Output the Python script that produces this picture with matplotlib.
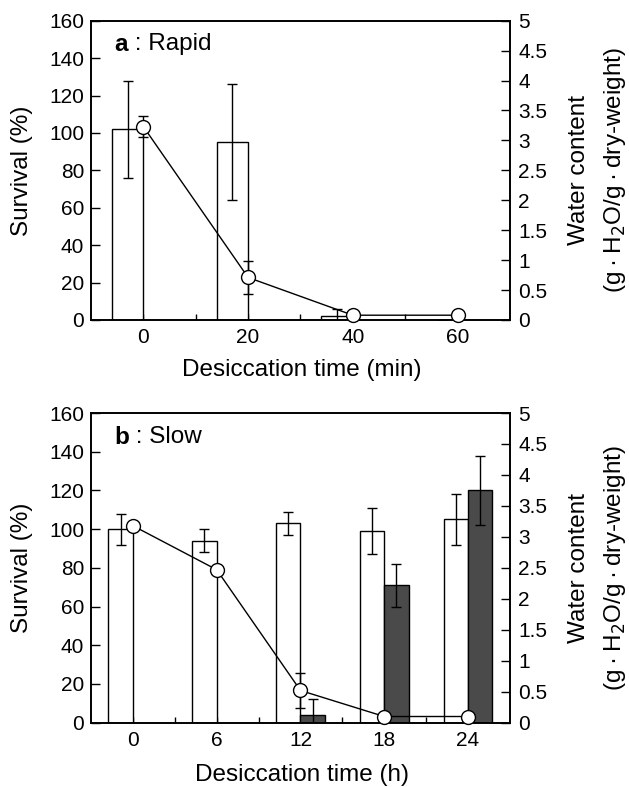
import matplotlib
matplotlib.use('Agg')
import matplotlib.pyplot as plt
from matplotlib.ticker import FixedLocator, FuncFormatter

plt.rcParams['font.family'] = ['Liberation Sans', 'DejaVu Sans']

# ---------------- data ----------------
rapid_time = [0, 20, 40, 60]
rapid_survival = [102, 95, 2, 0]
rapid_survival_err = [26, 31, 4, 0]
rapid_water = [3.23, 0.71, 0.08, 0.08]
rapid_water_err = [0.18, 0.27, 0, 0]

slow_time = [0, 6, 12, 18, 24]
slow_survival_white = [100, 94, 103, 99, 105]
slow_survival_white_err = [8, 6, 6, 12, 13]
slow_survival_dark = [0, 0, 4, 71, 120]
slow_survival_dark_err = [0, 0, 8, 11, 18]
slow_water = [3.18, 2.47, 0.52, 0.10, 0.10]
slow_water_err = [0, 0, 0.28, 0, 0]

left_ticks = [0, 20, 40, 60, 80, 100, 120, 140, 160]
right_ticks = [0, 0.5, 1, 1.5, 2, 2.5, 3, 3.5, 4, 4.5, 5]

TFS = 15     # tick labels
LFS = 17.5   # axis labels
DARK = '#4a4a4a'

fig = plt.figure(figsize=(6.29, 7.87), dpi=100)
ax_a = fig.add_axes([0.1447, 0.5934, 0.666, 0.3803])
ax_b = fig.add_axes([0.1447, 0.0817, 0.666, 0.3935])


def style(ax, ax2, xlim, xticks, xminor, xlabel, title_bold, title_rest):
    ax.set_xlim(*xlim)
    ax.set_ylim(0, 160)
    ax2.set_ylim(0, 5)
    ax.xaxis.set_major_locator(FixedLocator(xticks))
    ax.xaxis.set_minor_locator(FixedLocator(xminor))
    ax.set_xticklabels([str(t) for t in xticks])
    ax.yaxis.set_major_locator(FixedLocator(left_ticks))
    ax2.yaxis.set_major_locator(FixedLocator(right_ticks))
    ax2.yaxis.set_major_formatter(FuncFormatter(lambda v, p: '%g' % v))
    ax.tick_params(axis='both', which='major', direction='in', labelsize=TFS,
                   length=6.5, width=1, pad=5)
    ax.tick_params(axis='x', which='major', length=4, pad=6)
    ax.tick_params(axis='x', which='minor', direction='in', length=4, width=1)
    ax.tick_params(axis='y', right=False)
    ax2.tick_params(axis='y', direction='in', labelsize=TFS, length=6.5, width=1, pad=6)
    for a in (ax, ax2):
        for s in a.spines.values():
            s.set_linewidth(1.2)
    ax.text(-0.165, 0.5, 'Survival (%)', rotation=90, transform=ax.transAxes,
            ha='center', va='center', fontsize=LFS)
    ax.text(1.165, 0.5, 'Water content', rotation=90, transform=ax.transAxes,
            ha='center', va='center', fontsize=LFS)
    ax.text(1.25, 0.5, '(g\u2009\u00b7\u2009H$_2$O/g\u2009\u00b7\u2009dry-weight)',
            rotation=90, transform=ax.transAxes, ha='center', va='center',
            fontsize=LFS)
    ax.text(0.503, -0.168, xlabel, transform=ax.transAxes, ha='center',
            va='center', fontsize=LFS)
    t1 = ax.text(0.055, 0.922, title_bold, transform=ax.transAxes, ha='left',
                 va='center', fontsize=LFS, fontweight='bold')
    ax.annotate(title_rest, xy=(1, 0.5), xycoords=t1, ha='left', va='center',
                fontsize=LFS)


# ---------------- panel a ----------------
wa = 6
ax_a.bar(rapid_time, rapid_survival, width=-wa, align='edge', color='white',
         edgecolor='black', linewidth=1, zorder=2)
ax_a.errorbar([t - wa / 2 for t in rapid_time], rapid_survival, yerr=rapid_survival_err,
              fmt='none', ecolor='black', elinewidth=1, capsize=3.5, capthick=1, zorder=3)
ax2_a = ax_a.twinx()
ax2_a.errorbar(rapid_time, rapid_water, yerr=rapid_water_err, fmt='none', ecolor='black',
               elinewidth=1, capsize=3.5, capthick=1, zorder=3)
ax2_a.plot(rapid_time, rapid_water, color='black', lw=1, marker='o', ms=10,
           mfc='white', mec='black', mew=1, zorder=5, clip_on=False)
style(ax_a, ax2_a, (-10, 70), rapid_time, [10, 30, 50], 'Desiccation time (min)',
      'a', ' : Rapid')

# ---------------- panel b ----------------
wb = 1.75
ax_b.bar(slow_time, slow_survival_white, width=-wb, align='edge', color='white',
         edgecolor='black', linewidth=1, zorder=2)
ax_b.errorbar([t - wb / 2 for t in slow_time], slow_survival_white,
              yerr=slow_survival_white_err, fmt='none', ecolor='black', elinewidth=1,
              capsize=3.5, capthick=1, zorder=3)
dx = [t for t, v in zip(slow_time, slow_survival_dark) if v > 0]
dv = [v for v in slow_survival_dark if v > 0]
de = [e for e, v in zip(slow_survival_dark_err, slow_survival_dark) if v > 0]
ax_b.bar(dx, dv, width=wb, align='edge', color=DARK, edgecolor='black', linewidth=1,
         zorder=2)
ax_b.errorbar([t + wb / 2 for t in dx], dv, yerr=de, fmt='none', ecolor='black',
              elinewidth=1, capsize=3.5, capthick=1, zorder=3)
ax2_b = ax_b.twinx()
ax2_b.errorbar(slow_time, slow_water, yerr=slow_water_err, fmt='none', ecolor='black',
               elinewidth=1, capsize=3.5, capthick=1, zorder=3)
ax2_b.plot(slow_time, slow_water, color='black', lw=1, marker='o', ms=10,
           mfc='white', mec='black', mew=1, zorder=5, clip_on=False)
style(ax_b, ax2_b, (-3, 27), slow_time, [3, 9, 15, 21], 'Desiccation time (h)',
      'b', ' : Slow')

fig.savefig('out.png', dpi=100)
